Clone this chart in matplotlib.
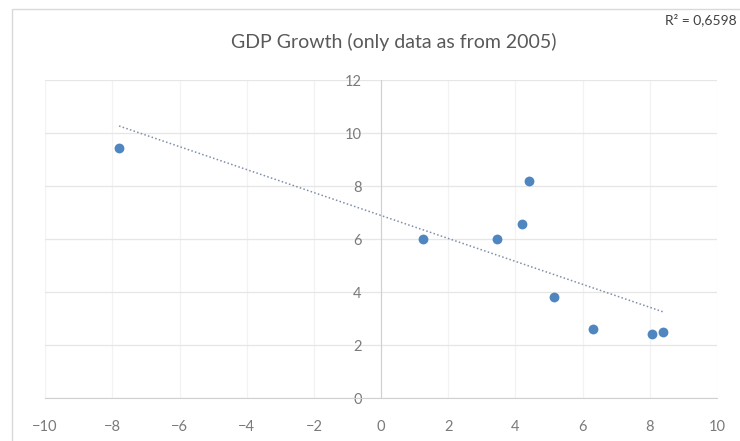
import numpy as np
import matplotlib.pyplot as plt

# GDP growth, only data as from 2005
x = [-7.8, 1.25, 3.45, 4.2, 4.4, 5.15, 6.3, 8.05, 8.4]
y = [9.45, 6.0, 6.0, 6.55, 8.2, 3.8, 2.6, 2.42, 2.5]
xticks = [-10, -8, -6, -4, -2, 0, 2, 4, 6, 8, 10]
yticks = [0, 2, 4, 6, 8, 10, 12]

plt.rcParams['font.family'] = ['Lato', 'DejaVu Sans']

fig = plt.figure(figsize=(7.4, 4.41), dpi=100)
ax = fig.add_axes([0.061, 0.0975, 0.908, 0.721])

# linear trendline
k, b = np.polyfit(x, y, 1)
tx = np.array([min(x), max(x)])
ax.plot(tx, k * tx + b, linestyle=(0, (1, 1.5)), color='#7f8fa6', linewidth=1.1, zorder=2)

ax.scatter(x, y, s=50, color='#4f86c0', zorder=3, linewidths=0)

ax.set_xlim(-10, 10)
ax.set_ylim(0, 12)
ax.set_xticks(xticks)
ax.set_yticks(yticks)
ax.grid(True, axis='y', color='#e6e6e6', linewidth=0.9)
ax.grid(True, axis='x', color='#f2f2f2', linewidth=0.9)
ax.set_axisbelow(True)

for s in ['top', 'right']:
    ax.spines[s].set_visible(False)
ax.spines['left'].set_position(('data', 0))
ax.spines['left'].set_color('#d0d0d0')
ax.spines['bottom'].set_color('#d0d0d0')
ax.tick_params(length=0, labelsize=10.5, labelcolor='#7a7a7a')
ax.tick_params(axis='x', pad=16)
ax.tick_params(axis='y', pad=14)

fig.text(0.532, 0.905, 'GDP Growth (only data as from 2005)', ha='center', va='center',
         fontsize=14, color='#595959')
fig.text(0.996, 0.955, 'R² = 0,6598', ha='right', va='center', fontsize=10, color='#404040')

fig.patches.append(plt.Rectangle((0.016, -0.02), 1.0, 1.0, transform=fig.transFigure,
                                 fill=False, edgecolor='#d9d9d9', linewidth=1))

fig.savefig('out.png', dpi=100)
